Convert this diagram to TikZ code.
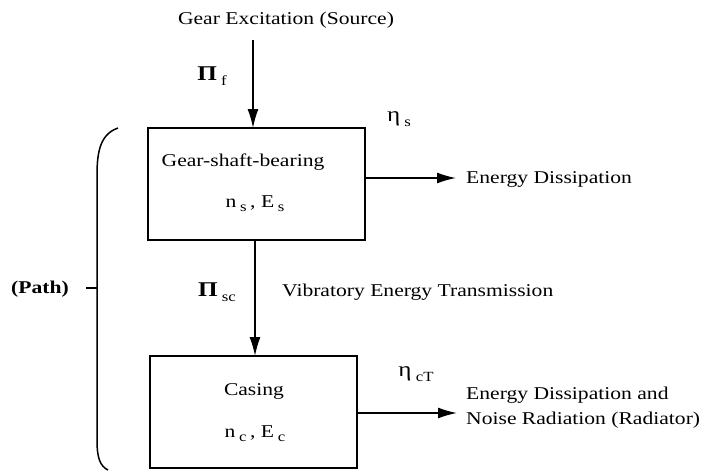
\documentclass[tikz,border=0pt]{standalone}
\usepackage{fontspec}
\usepackage{graphicx}
\setmainfont{Liberation Serif}
\usetikzlibrary{arrows.meta}
\newcommand{\widetxt}[1]{\scalebox{1.2}[1]{#1}}
\newcommand{\sbx}[1]{\raisebox{-0.5ex}{\fontsize{14}{16}\selectfont #1}}
\begin{document}
\begin{tikzpicture}[x=1pt,y=-1pt,
  txt/.style={font=\fontsize{18}{25}\selectfont, inner sep=0pt},
  sym/.style={font=\fontsize{21}{23}\selectfont, inner sep=0pt},
  boxs/.style={draw, line width=1.6pt},
  arr/.style={line width=1.5pt, -{Latex[length=19pt,width=11pt]}}]
\useasboundingbox (0,0) rectangle (721,472);
% boxes
\draw[boxs] (148,128) rectangle (365,240);
\coordinate (b1n) at (253,128);
\coordinate (b1s) at (255,240);
\coordinate (b1e) at (365,178);
\draw[boxs] (150,356) rectangle (357,468);
\coordinate (b2n) at (255,356);
\coordinate (b2e) at (357,413);
\node[txt] (gsb) at (243,162) {\widetxt{Gear-shaft-bearing}};
\node[txt] (nes) at (255,204) {\widetxt{n\,\sbx{s}\,, E\,\sbx{s}}};
\node[txt] (cas) at (254,391) {\widetxt{Casing}};
\node[txt] (nec) at (255,434) {\widetxt{n\,\sbx{c}\,, E\,\sbx{c}}};
% source
\node[txt] (src) at (286,20) {\widetxt{Gear Excitation (Source)}};
\coordinate (srcb) at (253,40);
\draw[arr] (srcb) -- (b1n);
\node[sym] (pif) at (212,76) {\widetxt{\textbf{Π}\,\sbx{f}}};
% transmission
\draw[arr] (b1s) -- (b2n);
\node[sym] (pisc) at (217,292) {\widetxt{\textbf{Π}\,\sbx{sc}}};
\node[txt,anchor=west] (vet) at (282,292) {\widetxt{Vibratory Energy Transmission}};
% dissipation 1
\node[txt,anchor=west] (ed1) at (466,179) {\widetxt{Energy Dissipation}};
\draw[arr, shorten >=10pt] (b1e) -- (ed1.west |- b1e);
\node[sym] (etas) at (399,119) {\widetxt{η\,\sbx{s}}};
% dissipation 2
\node[txt,anchor=west,align=left] (ed2) at (466,408) {\widetxt{Energy Dissipation and}\\\widetxt{Noise Radiation (Radiator)}};
\draw[arr, shorten >=9pt] (b2e) -- (ed2.west |- b2e);
\node[sym] (etac) at (416,374) {\widetxt{η\,\sbx{cT}}};
% path bracket
\draw[line width=1.5pt] (118,128) .. controls (101,134) and (97,150) .. (97,175) -- (97,440) .. controls (97,458) and (100,466) .. (108,470);
\coordinate (tick) at (97,288);
\draw[line width=1.5pt] (tick) -- ++(-11,0);
\node[txt] (path) at (40,289) {\widetxt{\textbf{(Path)}}};
\end{tikzpicture}
\end{document}
